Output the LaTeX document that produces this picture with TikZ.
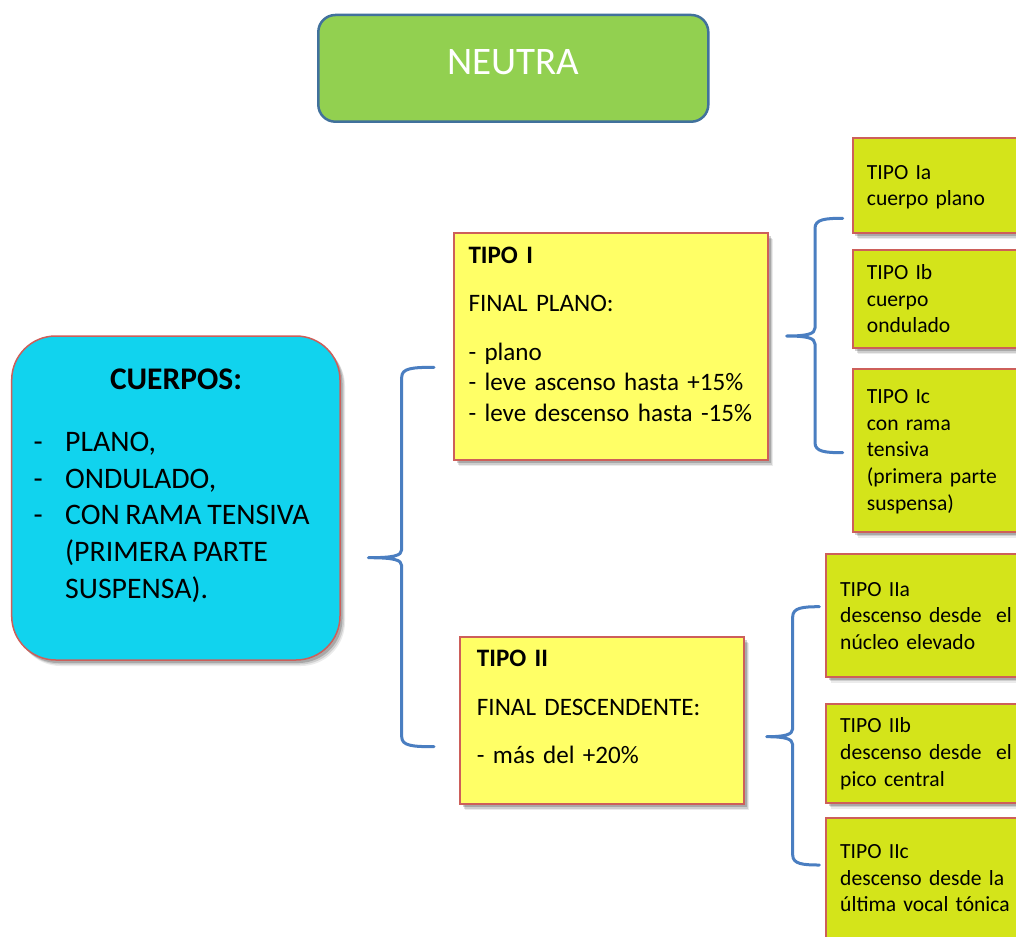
\documentclass[tikz,border=0pt]{standalone}
\usepackage{fontspec}
\setmainfont{Carlito}[WordSpace=0.85]
\usetikzlibrary{shadows,fit}
\definecolor{neutraGreen}{RGB}{146,208,80}
\definecolor{neutraBorder}{RGB}{65,113,156}
\definecolor{cyanFill}{RGB}{17,211,238}
\definecolor{redBorder}{RGB}{205,95,90}
\definecolor{yellowFill}{RGB}{255,255,102}
\definecolor{limeFill}{RGB}{212,228,26}
\definecolor{braceBlue}{RGB}{74,126,193}
\tikzset{
  boxshadow/.style={
    drop shadow={shadow xshift=5pt, shadow yshift=-6pt, opacity=0.08, fill=black},
    drop shadow={shadow xshift=4pt, shadow yshift=-4.5pt, opacity=0.12, fill=black},
    drop shadow={shadow xshift=2.5pt, shadow yshift=-3pt, opacity=0.18, fill=black}},
  neutrabox/.style={draw=neutraBorder, line width=2.5pt, fill=neutraGreen, rounded corners=17pt, inner sep=0pt},
  cuerposbox/.style={draw=redBorder, line width=1.5pt, fill=cyanFill, rounded corners=44pt, inner sep=0pt, boxshadow},
  tipobox/.style={draw=redBorder, line width=1.8pt, fill=yellowFill, inner sep=0pt, boxshadow},
  subbox/.style={draw=redBorder, line width=1.8pt, fill=limeFill, inner sep=0pt, boxshadow},
  tipotext/.style={anchor=base west, inner sep=0pt, text width=300pt, align=left, font=\fontsize{25.1}{30.5}\selectfont},
  subtext/.style={anchor=base west, inner sep=0pt, text width=200pt, align=left, font=\fontsize{21.6}{26.7}\selectfont},
  bracestyle/.style={draw=braceBlue, line width=3pt, line cap=round, line join=round},
}
\newcommand\mybrace[6]{%
  \draw[bracestyle] (#6,#2) .. controls (#1+10,#2) and (#1,#2+1) .. (#1,#2+10)
    -- (#1,#5-8) .. controls (#1,#5-2) and (#1-8,#5) .. (#4,#5)
    .. controls (#1-8,#5) and (#1,#5+2) .. (#1,#5+8)
    -- (#1,#3-10) .. controls (#1,#3-1) and (#1+10,#3) .. (#6,#3);}
\begin{document}
\begin{tikzpicture}[x=1pt,y=-1pt]
\useasboundingbox (0,0) rectangle (1016,936);
\clip (0,0) rectangle (1016,936);
\fill[white] (0,0) rectangle (1016,936);

% top box
\node[neutrabox, fit={(318.3,15) (708.3,121.7)}] (neutra) {};
\node[anchor=base, text=white, font=\fontsize{39}{46}\selectfont] (neutratxt) at (513.3,74.3) {NEUTRA};

% cuerpos
\node[cuerposbox, fit={(11.7,336) (340,660)}] (cuerpos) {};
\node[anchor=base, font=\bfseries\fontsize{31.5}{36.6}\selectfont] (cuerposttl) at (176,389.3) {CUERPOS:};
\node[anchor=base west, inner sep=0pt, font=\fontsize{29.8}{36.6}\selectfont] (cuerpostxt) at (33.3,451.7)
  {\begin{tabular}[t]{@{}p{31.7pt}@{}l@{}}
   - & PLANO,\\
   - & ONDULADO,\\
   - & CON RAMA TENSIVA\\
     & (PRIMERA PARTE\\
     & SUSPENSA).
   \end{tabular}};

% tipo I / II
\node[tipobox, fit={(454,233.3) (768.3,460)}] (tipoI) {};
\node[tipotext] (tipoItxt) at (468.3,263.3)
  {\textbf{TIPO I}\\[18pt]
   FINAL PLANO:\\[18pt]
   - plano\\
   - leve ascenso hasta +15\%\\
   - leve descenso hasta -15\%};
\node[tipobox, fit={(460,637.3) (744,804)}] (tipoII) {};
\node[tipotext] (tipoIItxt) at (476.7,666.7)
  {\textbf{TIPO II}\\[18pt]
   FINAL DESCENDENTE:\\[18pt]
   - más del +20\%};

% sub boxes
\node[subbox, fit={(852.7,138.3) (1040,233.3)}] (ia) {};
\node[subtext] (iatxt) at (866.7,179.3) {TIPO Ia\\cuerpo plano};
\node[subbox, fit={(852.7,250) (1040,348.3)}] (ib) {};
\node[subtext] (ibtxt) at (866.7,279.3) {TIPO Ib\\cuerpo\\ondulado};
\node[subbox, fit={(852.7,369.3) (1040,531.7)}] (ic) {};
\node[subtext] (ictxt) at (866.7,403.3) {TIPO Ic\\con rama\\tensiva\\(primera parte\\suspensa)};
\node[subbox, fit={(826,554) (1040,676.7)}] (iia) {};
\node[subtext] (iiatxt) at (840,596) {TIPO IIa\\descenso desde~ el\\núcleo elevado};
\node[subbox, fit={(826,704) (1040,802.7)}] (iib) {};
\node[subtext] (iibtxt) at (840,732.7) {TIPO IIb\\descenso desde~ el\\pico central};
\node[subbox, fit={(826,818.3) (1040,960)}] (iic) {};
\node[subtext] (iictxt) at (840,858.3) {TIPO IIc\\descenso desde la\\última vocal tónica};

% braces
\mybrace{401.7}{367.3}{746.7}{368.3}{557.7}{434}
\mybrace{815}{218.3}{452.7}{786.7}{336}{842.7}
\mybrace{792.7}{606.7}{865}{766.7}{736.7}{819.3}
\end{tikzpicture}
\end{document}
